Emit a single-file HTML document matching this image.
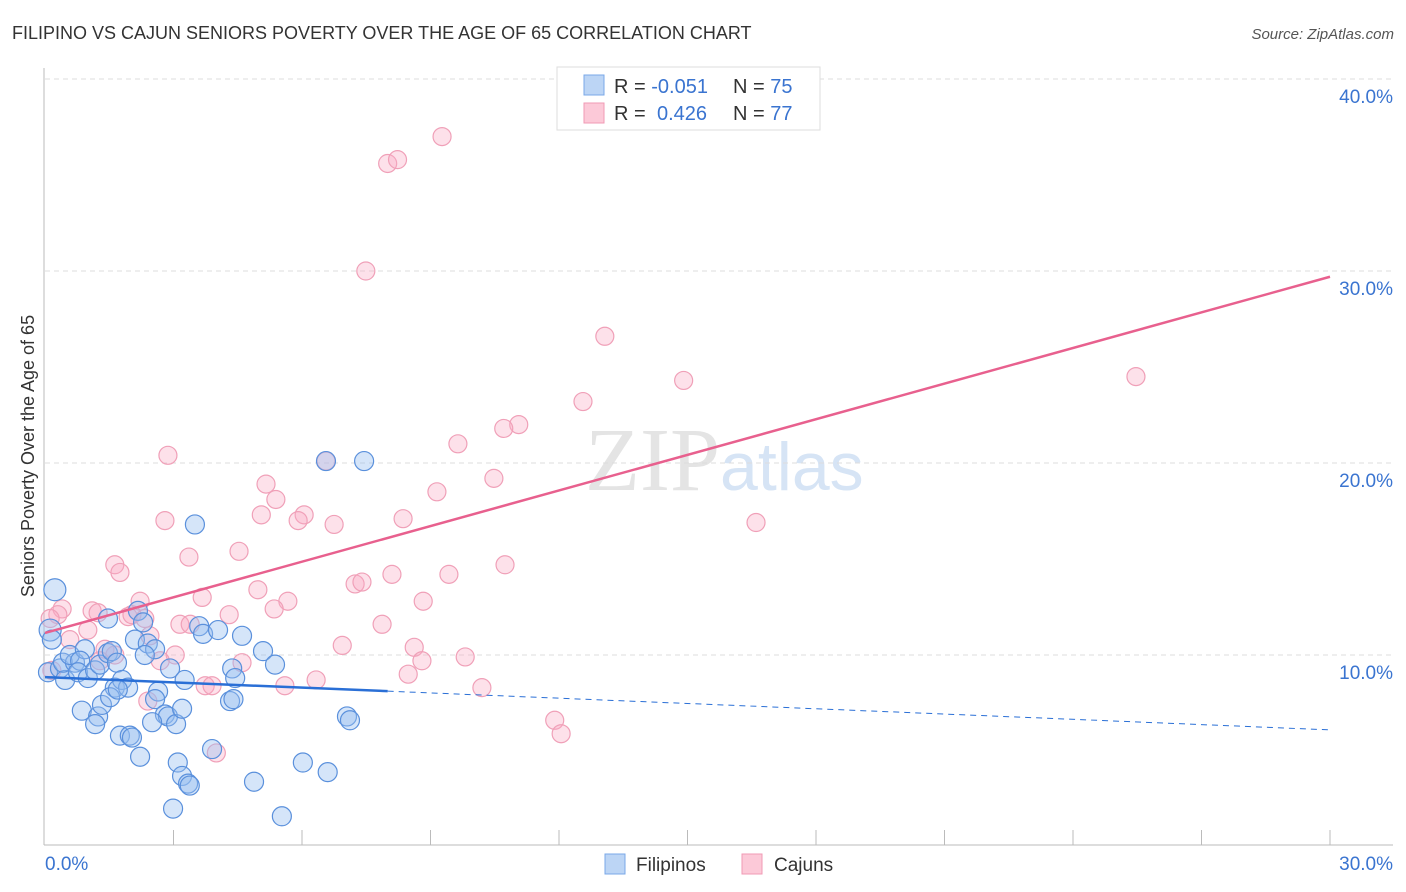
<!DOCTYPE html>
<html><head><meta charset="utf-8"><style>
body{margin:0;background:#fff;font-family:"Liberation Sans",sans-serif}
svg{display:block}
</style></head><body>
<svg width="1406" height="892" id="svg">
<text x="12" y="39" font-size="18" fill="#333">FILIPINO VS CAJUN SENIORS POVERTY OVER THE AGE OF 65 CORRELATION CHART</text>
<text x="1394" y="39" font-size="15" fill="#555" font-style="italic" text-anchor="end">Source: ZipAtlas.com</text>
<text x="34" y="456" font-size="18" fill="#333" text-anchor="middle" transform="rotate(-90 34 456)">Seniors Poverty Over the Age of 65</text>
<text x="720" y="490" font-size="90" fill="#e4e4e4" text-anchor="end" font-family="Liberation Serif">ZIP</text>
<text x="720" y="490" font-size="68" fill="#d6e4f5">atlas</text>
<g id="grid"></g><g id="axes"></g><g id="pink"></g><g id="blue"></g><g id="lines"></g>
<g>
<rect x="557" y="67" width="263" height="63" fill="#fff" stroke="#ddd"/>
<rect x="584" y="75" width="20" height="20" fill="#bcd5f5" stroke="#7aa8e8"/>
<rect x="584" y="103" width="20" height="20" fill="#fcc9d8" stroke="#f09ab4"/>
<text x="614" y="93" font-size="20" fill="#333">R = <tspan fill="#3a74d0">-0.051</tspan><tspan x="733">N = </tspan><tspan fill="#3a74d0">75</tspan></text>
<text x="614" y="120" font-size="20" fill="#333">R = <tspan x="657" fill="#3a74d0">0.426</tspan><tspan x="733">N = </tspan><tspan fill="#3a74d0">77</tspan></text>
</g>
<g>
<rect x="605" y="854" width="20" height="20" fill="#bcd5f5" stroke="#7aa8e8"/>
<text x="636" y="871" font-size="19" fill="#333">Filipinos</text>
<rect x="742" y="854" width="20" height="20" fill="#fcc9d8" stroke="#f09ab4"/>
<text x="774" y="871" font-size="19" fill="#333">Cajuns</text>
</g>
</svg>
<script>
const yTicks=[10,20,30,40];
const yTickLabels=["10.0%","20.0%","30.0%","40.0%"];
const xTickLabels=["0.0%","30.0%"];
const blueX=[.23,.12,.16,.07,.35,.47,.42,.7,.58,.93,.82,.77,1.0,1.17,1.28,1.47,1.56,1.68,1.63,1.8,1.94,1.47,2.17,2.29,2.1,2.4,2.57,2.33,2.92,3.26,3.6,3.69,4.04,4.6,4.37,4.44,5.09,5.37,.86,1.24,1.17,1.33,1.52,1.7,2.64,2.57,2.8,2.87,2.5,3.06,3.2,1.75,1.98,2.03,2.22,3.1,3.2,3.34,3.38,2.99,3.9,4.32,4.4,4.88,5.53,6.02,6.6,7.05,7.12,6.56,7.45,3.5];
const blueY=[13.4,11.3,10.8,9.1,9.3,8.7,9.6,9.6,10,10.3,9.7,9.1,8.8,9.2,9.5,10.1,10.2,9.6,8.3,8.7,8.3,11.9,12.3,11.7,10.8,10.6,10.3,10,9.3,8.7,11.5,11.1,11.3,11,9.3,8.8,10.2,9.5,7.1,6.8,6.4,7.4,7.8,8.2,8.1,7.7,6.9,6.8,6.5,6.4,7.2,5.8,5.8,5.7,4.7,4.4,3.7,3.3,3.2,2.0,5.1,7.6,7.7,3.4,1.6,4.4,3.9,6.8,6.6,20.1,20.1,16.8];
const pinkX=[9.27,8.0,8.23,7.49,13.07,14.91,25.47,12.56,11.06,10.71,9.64,6.56,2.87,10.48,9.15,5.16,5.39,5.05,6.05,5.91,6.75,8.36,2.8,16.6,4.53,3.36,1.63,1.75,10.74,9.43,8.1,7.24,7.4,4.97,3.67,5.67,8.83,5.35,2.22,.4,1.1,1.24,.3,.12,1.94,2.03,4.3,2.33,3.15,3.39,7.87,1.0,.58,2.45,6.94,8.62,1.4,1.63,3.04,2.69,4.6,9.81,8.8,8.48,.16,6.33,5.6,3.74,3.9,10.2,2.4,11.9,12.05,4.0,1.28];
const pinkY=[37,35.6,35.8,30,26.6,24.3,24.5,23.2,22,21.8,21,20.1,20.4,19.2,18.5,18.9,18.1,17.3,17.3,17.0,16.8,17.1,17,16.9,15.4,15.1,14.7,14.3,14.7,14.2,14.2,13.7,13.8,13.4,13.0,12.8,12.8,12.4,12.8,12.4,12.3,12.2,12.1,11.9,12.0,12.1,12.1,11.9,11.6,11.6,11.6,11.3,10.8,11,10.5,10.4,10.3,10,10,9.7,9.6,9.9,9.7,9,9.2,8.7,8.4,8.4,8.4,8.3,7.6,6.6,5.9,4.9,9.7];
const pinkTrend=[11.15,29.7];
const blueTrend=[8.85,6.1];
const blueSolidEnd=8;
const NS="http://www.w3.org/2000/svg";
const X=v=>45+v/30*1285, Y=v=>847-v*19.2;
function mk(tag,attrs,parent){const e=document.createElementNS(NS,tag);for(const k in attrs)e.setAttribute(k,attrs[k]);document.getElementById(parent).appendChild(e);return e;}
yTicks.forEach((t,i)=>{
 const l=mk('line',{x1:45,x2:1393,y1:Y(t),y2:Y(t),stroke:'#ddd','stroke-dasharray':'5,4'},'grid');
 
 
 const tx=mk('text',{x:1393,y:Y(t)+24,'font-size':19,fill:'#3a74d0','text-anchor':'end'},'grid');
 tx.textContent=yTickLabels[i];
 
 
});
const ax=mk('line',{x1:44,x2:44,y1:68,y2:845,stroke:'#bbb'},'axes');


const bx=mk('line',{x1:44,x2:1393,y1:845,y2:845,stroke:'#bbb'},'axes');


for(let k=1;k<=10;k++){const t=mk('line',{x1:X(k*3),x2:X(k*3),y1:830,y2:845,stroke:'#bbb'},'axes');
 
 }
[[0,'start',45],[30,'end',1393]].forEach((d,i)=>{const t=mk('text',{x:d[2],y:870,'font-size':19,fill:'#3a74d0','text-anchor':d[1]},'axes');t.textContent=xTickLabels[i];
 
 });
pinkX.forEach((v,i)=>{const c=mk('circle',{cx:X(v),cy:Y(pinkY[i]),r:9,fill:'rgba(248,170,195,0.35)',stroke:'#f0a0b8','stroke-width':1.2},'pink');
 
 });
blueX.forEach((v,i)=>{const c=mk('circle',{cx:X(v),cy:Y(blueY[i]),r:(i<2?11:9.5),fill:'rgba(150,190,240,0.4)',stroke:'#5a90dc','stroke-width':1.2},'blue');
 
 });
const pl=mk('line',{x1:X(0),y1:Y(pinkTrend[0]),x2:X(30),y2:Y(pinkTrend[1]),stroke:'#e8608e','stroke-width':2.5},'lines');


const bAt=x=>blueTrend[0]+(blueTrend[1]-blueTrend[0])*x/30;
const bl=mk('line',{x1:X(0),y1:Y(bAt(0)),x2:X(blueSolidEnd),y2:Y(bAt(blueSolidEnd)),stroke:'#2a6fd6','stroke-width':2.5},'lines');


const bd=mk('line',{x1:X(blueSolidEnd),y1:Y(bAt(blueSolidEnd)),x2:X(30),y2:Y(bAt(30)),stroke:'#2a6fd6','stroke-width':1,'stroke-dasharray':'6,5'},'lines');


</script>
</body></html>
